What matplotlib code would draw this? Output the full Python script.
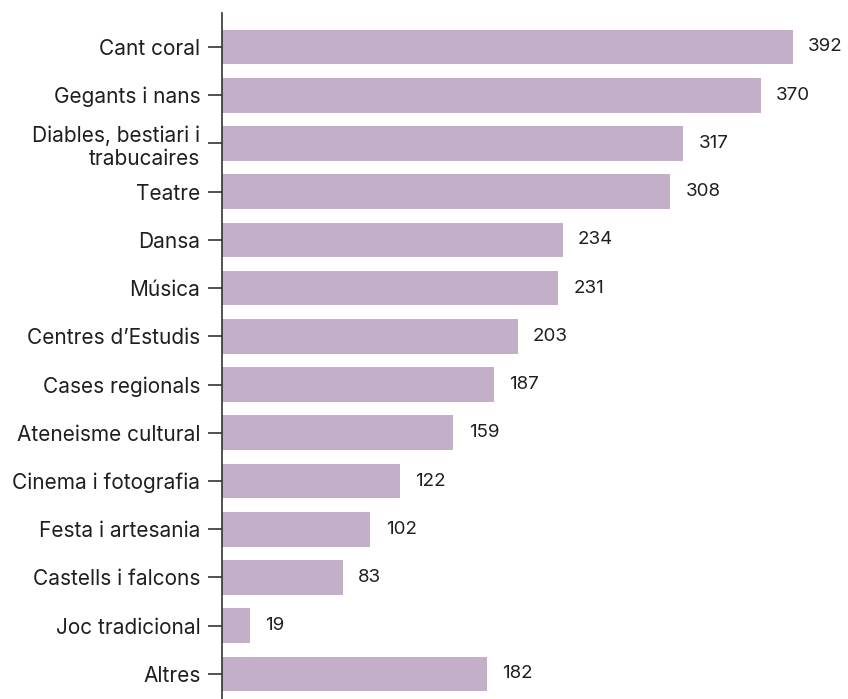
import matplotlib
matplotlib.use("Agg")
import matplotlib.pyplot as plt

categories = [
    "Cant coral",
    "Gegants i nans",
    "Diables, bestiari i\ntrabucaires",
    "Teatre",
    "Dansa",
    "Música",
    "Centres d\u2019Estudis",
    "Cases regionals",
    "Ateneisme cultural",
    "Cinema i fotografia",
    "Festa i artesania",
    "Castells i falcons",
    "Joc tradicional",
    "Altres",
]
values = [392, 370, 317, 308, 234, 231, 203, 187, 159, 122, 102, 83, 19, 182]

BAR_COLOR = "#c4afc9"
TEXT_COLOR = "#1f1f1f"

plt.rcParams["font.family"] = ["Inter", "DejaVu Sans"]

fig = plt.figure(figsize=(8.48, 6.99), dpi=100)
ax = fig.add_axes([222 / 848, 0.0, 1 - 222 / 848, (699 - 13) / 699])

ypos = list(range(len(categories)))
ax.barh(ypos, values, height=0.72, color=BAR_COLOR)

for y, v in zip(ypos, values):
    ax.annotate(str(v), (v, y), xytext=(11, 0), textcoords="offset points",
                ha="left", va="center", fontsize=13.5, color=TEXT_COLOR)

ax.set_xlim(0, 430)
ax.set_ylim(13.52, -0.705)
ax.set_yticks(ypos)
ax.set_yticklabels(categories, fontsize=15, color=TEXT_COLOR, linespacing=1.2)
ax.tick_params(axis="y", length=10, width=1.2, color="#333333", pad=5.5)
ax.set_xticks([])

for side in ("top", "right", "bottom"):
    ax.spines[side].set_visible(False)
ax.spines["left"].set_color("#333333")
ax.spines["left"].set_linewidth(1.2)

fig.savefig("out.png", dpi=100)
